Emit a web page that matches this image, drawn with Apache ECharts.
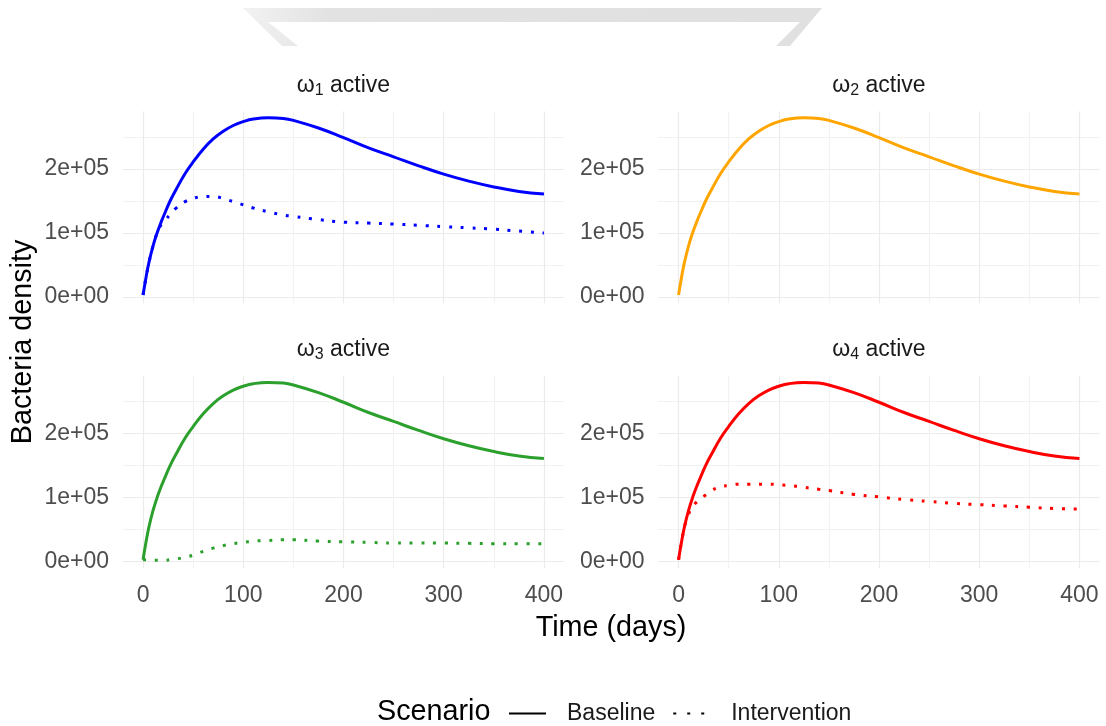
<!DOCTYPE html>
<html>
<head>
<meta charset="utf-8">
<script src="https://cdn.jsdelivr.net/npm/echarts@6/dist/echarts.min.js"></script>
<style>
  html, body { margin: 0; padding: 0; background: #ffffff; }
  #chart { width: 1106px; height: 726px; }
</style>
</head>
<body>
<div id="chart"></div>
<script>
// Time points (days)
const days = [0, 3, 6, 10, 14, 18, 22, 27, 33, 42, 50, 60, 70, 80, 90, 100, 110, 125, 140, 150, 175, 200, 225, 250, 275, 300, 325, 350, 375, 400];

// Bacteria density without intervention (same in every panel)
const baseline = [3000, 31000, 55000, 80000, 100000, 117000, 132000, 150000, 168000, 193000, 211000, 231000, 247000, 259000, 268000, 274000, 278000, 280000, 279000, 276000, 264000, 249000, 233000, 219000, 205000, 192000, 181000, 172000, 165000, 161000];

// Bacteria density with the intervention, per active omega
const interventionW1 = [3000, 31000, 55000, 80000, 100000, 113000, 120000, 129000, 139000, 149000, 154000, 157000, 157000, 154000, 149000, 144000, 139000, 133000, 128000, 126000, 121000, 117000, 115500, 114000, 112000, 110000, 108000, 106000, 103000, 100000];
const interventionW3 = [3000, 3000, 2000, 2000, 2000, 2000, 2000, 3000, 4000, 7000, 10000, 16000, 21000, 25000, 28000, 30000, 32000, 33000, 34000, 34000, 32000, 31000, 30000, 29000, 29000, 29000, 28500, 28000, 28000, 28000];
const interventionW4 = [3000, 31000, 55000, 74000, 86000, 93000, 98000, 104000, 111000, 117000, 119000, 121000, 121000, 121000, 121000, 120000, 119000, 116000, 113000, 111000, 105000, 101000, 97000, 94000, 91000, 89000, 87000, 85000, 83000, 82000];

const panelSubscripts = ['1', '2', '3', '4'];
const panelColors = ['#0000ff', '#ffa500', '#2ca02c', '#ff0000'];
const panelInterventions = [interventionW1, null, interventionW3, interventionW4];

const xTickLabels = [0, 100, 200, 300, 400];
const yTickLabels = [0, 100000, 200000];
const scenarioNames = ['Baseline', 'Intervention'];

// Panel geometry
const panelW = 441, panelH = 192;
const panelLefts = [123, 658.5];
const panelTops = [111.4, 376];

const FONT = '"Liberation Sans", Arial, sans-serif';
const MAJOR = '#ebebeb';
const MINOR = '#f2f2f2';
const NONE = 'rgba(0,0,0,0)';
const DOTS = [3, 8.7];

function sci(v) {
  if (v === 0) return '0e+00';
  const e = Math.floor(Math.log10(Math.abs(v)));
  const m = Math.round(v / Math.pow(10, e));
  return m + 'e+' + String(e).padStart(2, '0');
}

function pairs(ys) {
  return days.map((d, i) => [d, ys[i]]);
}

// x: ticks every 10 from -20; colour cycle puts majors at 0,100,.. and minors at 50,150,..
const xLineColors = [];
for (let i = 0; i < 10; i++) xLineColors.push(i === 2 ? MAJOR : (i === 7 ? MINOR : NONE));
// y: ticks every 10000 from -10000; majors at 0,1e5,2e5 and minors at 5e4,1.5e5,2.5e5
const yLineColors = [];
for (let i = 0; i < 10; i++) yLineColors.push(i === 1 ? MAJOR : (i === 6 ? MINOR : NONE));

const grids = [], xAxes = [], yAxes = [], series = [], graphics = [];

// Legend-only series (black keys)
series.push({ name: scenarioNames[0], type: 'line', xAxisIndex: 0, yAxisIndex: 0, data: [], symbol: 'none',
  color: '#000000', lineStyle: { color: '#000000', width: 3 } });
series.push({ name: scenarioNames[1], type: 'line', xAxisIndex: 0, yAxisIndex: 0, data: [], symbol: 'none',
  color: '#000000', lineStyle: { color: '#000000', width: 3, type: DOTS, cap: 'butt' } });

for (let p = 0; p < 4; p++) {
  const col = p % 2, row = Math.floor(p / 2);
  const left = panelLefts[col], top = panelTops[row];
  grids.push({ left: left, top: top, width: panelW, height: panelH, containLabel: false });
  xAxes.push({
    type: 'value', gridIndex: p, min: -20, max: 420, interval: 10,
    axisLine: { show: false }, axisTick: { show: false },
    axisLabel: {
      show: row === 1, margin: 16, fontSize: 23, color: '#4d4d4d', fontFamily: FONT,
      formatter: v => (xTickLabels.indexOf(v) >= 0 ? String(v) : '')
    },
    splitLine: { show: true, lineStyle: { color: xLineColors, width: 1.2 } }
  });
  yAxes.push({
    type: 'value', gridIndex: p, min: -10000, max: 290000, interval: 10000,
    axisLine: { show: false }, axisTick: { show: false },
    axisLabel: {
      show: true, margin: 14, fontSize: 23, color: '#4d4d4d', fontFamily: FONT,
      formatter: v => (yTickLabels.indexOf(v) >= 0 ? sci(v) : '')
    },
    splitLine: { show: true, lineStyle: { color: yLineColors, width: 1.2 } }
  });

  series.push({
    name: scenarioNames[0], type: 'line', xAxisIndex: p, yAxisIndex: p,
    data: pairs(baseline), symbol: 'none', smooth: 0.45,
    color: panelColors[p], lineStyle: { color: panelColors[p], width: 3 }, z: 3
  });
  if (panelInterventions[p]) {
    series.push({
      name: scenarioNames[1], type: 'line', xAxisIndex: p, yAxisIndex: p,
      data: pairs(panelInterventions[p]), symbol: 'none', smooth: 0.45,
      color: panelColors[p], lineStyle: { color: panelColors[p], width: 3, type: DOTS, cap: 'butt' }, z: 2
    });
  }

  // strip title
  graphics.push({
    type: 'text', x: left + panelW / 2, y: top - 26,
    style: {
      text: '{w|ω}{s|' + panelSubscripts[p] + '}{t| active}',
      align: 'center', verticalAlign: 'middle',
      rich: {
        w: { fontSize: 23, lineHeight: 26, fontFamily: FONT, fill: '#1a1a1a' },
        t: { fontSize: 23, lineHeight: 26, fontFamily: FONT, fill: '#1a1a1a' },
        s: { fontSize: 16, lineHeight: 9, verticalAlign: 'bottom', fontFamily: FONT, fill: '#1a1a1a' }
      }
    }
  });
}

// Axis titles
graphics.push({
  type: 'text', x: 611, y: 628,
  style: { text: 'Time (days)', align: 'center', verticalAlign: 'middle', fontSize: 28.75, fontFamily: FONT, fill: '#000000' }
});
graphics.push({
  type: 'text', x: 23, y: 342, rotation: Math.PI / 2,
  style: { text: 'Bacteria density', align: 'center', verticalAlign: 'middle', fontSize: 28.75, fontFamily: FONT, fill: '#000000' }
});
// Legend title
graphics.push({
  type: 'text', x: 377, y: 712,
  style: { text: 'Scenario', align: 'left', verticalAlign: 'middle', fontSize: 28.75, fontFamily: FONT, fill: '#000000' }
});
// Grey frame edge along the top of the page
graphics.push({
  type: 'polygon', z: -1,
  shape: { points: [[243, 8], [822, 8], [790, 46], [776, 46], [800, 22], [268, 22], [298, 46], [282, 46]] },
  style: { fill: new echarts.graphic.LinearGradient(0, 0, 1, 0, [
    { offset: 0, color: '#f2f2f2' }, { offset: 0.15, color: '#e2e2e2' }, { offset: 1, color: '#e0e0e0' }]) }
});

const chart = echarts.init(document.getElementById('chart'), null, { renderer: 'canvas' });
chart.setOption({
  animation: false,
  backgroundColor: '#ffffff',
  grid: grids,
  xAxis: xAxes,
  yAxis: yAxes,
  legend: {
    data: [
      { name: scenarioNames[0] },
      { name: scenarioNames[1], lineStyle: { type: [3, 11], cap: 'butt' } }
    ],
    left: 503, top: 697, orient: 'horizontal',
    itemWidth: 37, itemHeight: 20, itemGap: 17,
    itemStyle: { opacity: 0 },
    textStyle: { fontSize: 23, color: '#1a1a1a', fontFamily: FONT, padding: [0, 0, 0, 16] }
  },
  graphic: graphics,
  series: series
});
</script>
</body>
</html>
